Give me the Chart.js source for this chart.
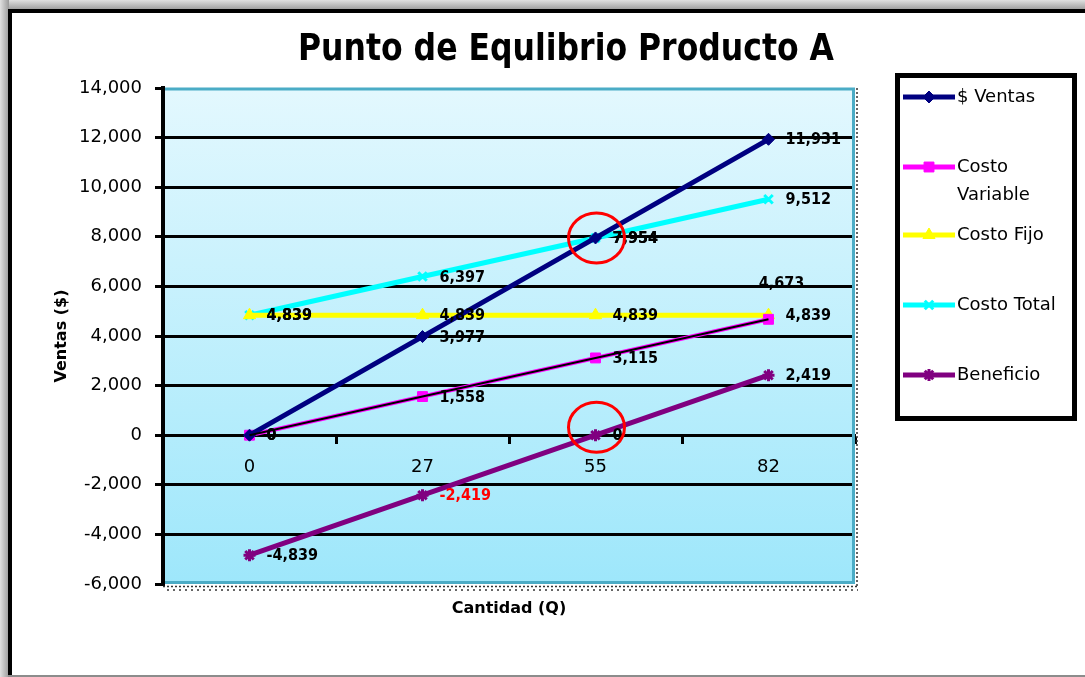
<!DOCTYPE html>
<html><head><meta charset="utf-8">
<script src="https://cdn.jsdelivr.net/npm/chart.js@4.4.1/dist/chart.umd.min.js"></script>
<style>html,body{margin:0;padding:0;background:#fff;overflow:hidden}canvas{display:block}</style>
</head><body><canvas id="c" width="1085" height="677"></canvas>
<script>
// ---- data ----
const categories = ['0', '27', '55', '82'];
const ventas = [0, 3977, 7954, 11931];
const costoVariable = [0, 1558, 3115, 4673];
const costoFijo = [4839, 4839, 4839, 4839];
const costoTotal = [4839, 6397, 7954, 9512];
const beneficio = [-4839, -2419, 0, 2419];
const seriesNames = ['$ Ventas', 'Costo Variable', 'Costo Fijo', 'Costo Total', 'Beneficio'];
const yMin = -6000, yMax = 14000, yStep = 2000;
const chartTitle = 'Punto de Equlibrio Producto A';
const yTitle = 'Ventas ($)';
const xTitle = 'Cantidad (Q)';
const breakEvenIndex = 2;

// ---- styles ----
const FONT_T = '"DejaVu Sans", sans-serif';
const FONT_C = '"DejaVu Sans Condensed", "Liberation Sans Narrow", "DejaVu Sans", sans-serif';
const styles = [
  {color:'#000080', style:'rectRot', r:6, bw:1},
  {color:'#ff00ff', style:'rect', r:7, bw:1, lw:4},
  {color:'#ffff00', style:'triangle', r:7, bw:1},
  {color:'#00ffff', style:'crossRot', r:6, bw:3},
  {color:'#800080', style:'star', r:6, bw:3}
];
const seriesData = [ventas, costoVariable, costoFijo, costoTotal, beneficio];

const datasets = seriesData.map((d, i) => ({
  label: seriesNames[i], data: d,
  borderColor: styles[i].color, backgroundColor: styles[i].color,
  pointBackgroundColor: styles[i].color, pointBorderColor: styles[i].color,
  borderWidth: styles[i].lw || 5, pointStyle: styles[i].style, pointRadius: styles[i].r,
  pointBorderWidth: styles[i].bw, order: 1
}));
datasets.push({label: '', data: costoVariable, borderColor: '#000000', borderWidth: 2, pointRadius: 0, order: 0, isTrend: true});

const framePlugin = {
  id: 'frame',
  beforeDraw(chart) {
    const ctx = chart.ctx, W = chart.width, H = chart.height, a = chart.chartArea;
    ctx.save();
    const sg = ctx.createLinearGradient(0, 0, 9, 0);
    sg.addColorStop(0, '#e0e0e0'); sg.addColorStop(1, '#9a9a9a');
    ctx.fillStyle = sg; ctx.fillRect(0, 0, 9, H);
    const tg = ctx.createLinearGradient(0, 0, 0, 10);
    tg.addColorStop(0, '#e0e0e0'); tg.addColorStop(1, '#9a9a9a');
    ctx.fillStyle = tg; ctx.fillRect(9, 0, W, 10);
    ctx.fillStyle = '#ffffff'; ctx.fillRect(12, 13, W, 662);
    ctx.fillStyle = '#000000'; ctx.fillRect(8, 9, W, 4); ctx.fillRect(8, 9, 4, 666);
    ctx.fillStyle = '#8c8c8c'; ctx.fillRect(8, 675, W, 2);
    const g = ctx.createLinearGradient(0, a.top, 0, a.bottom);
    g.addColorStop(0, '#e3f8fe'); g.addColorStop(1, '#9ee7fb');
    ctx.fillStyle = g; ctx.fillRect(a.left, a.top, a.right - a.left, a.bottom - a.top);
    // title
    ctx.font = 'bold 38px "Liberation Sans Narrow", "DejaVu Sans Condensed", "DejaVu Sans", sans-serif';
    const w = ctx.measureText(chartTitle).width;
    ctx.translate(566, 60); ctx.scale(536 / w, 1);
    ctx.fillStyle = '#000'; ctx.textAlign = 'center'; ctx.textBaseline = 'alphabetic';
    ctx.fillText(chartTitle, 0, 0);
    ctx.restore();
  },
  beforeDatasetsDraw(chart) {
    const ctx = chart.ctx, a = chart.chartArea;
    ctx.save();
    ctx.strokeStyle = '#4bacc6'; ctx.lineWidth = 3;
    ctx.beginPath();
    ctx.moveTo(a.left + 2, a.top + 1); ctx.lineTo(a.right, a.top + 1);
    ctx.moveTo(a.right - 1.5, a.top); ctx.lineTo(a.right - 1.5, a.bottom);
    ctx.moveTo(a.left + 2, a.bottom - 1.5); ctx.lineTo(a.right, a.bottom - 1.5);
    ctx.stroke();
    ctx.strokeStyle = '#333'; ctx.lineWidth = 1.5; ctx.setLineDash([2, 2]);
    ctx.beginPath();
    ctx.moveTo(a.left, a.bottom + 2.5); ctx.lineTo(a.right + 3, a.bottom + 2.5);
    ctx.moveTo(a.right + 2, a.top); ctx.lineTo(a.right + 2, a.bottom + 2);
    ctx.stroke();
    ctx.setLineDash([2, 4]);
    ctx.beginPath();
    ctx.moveTo(a.left + 4, a.bottom + 6); ctx.lineTo(a.right + 3, a.bottom + 6);
    ctx.stroke();
    ctx.restore();
  },
  afterDatasetsDraw(chart) {
    const ctx = chart.ctx, xs = chart.scales.x, ys = chart.scales.y;
    ctx.save();
    ctx.font = 'bold 16px ' + FONT_C;
    ctx.textBaseline = 'middle';
    seriesData.forEach((d, si) => {
      d.forEach((v, i) => {
        const px = xs.getPixelForValue(i), py = ys.getPixelForValue(v);
        const txt = v.toLocaleString('en-US');
        ctx.fillStyle = v < 0 && i > 0 ? '#ff0000' : '#000000';
        if (si === 1 && i === d.length - 1) {
          ctx.textAlign = 'center';
          ctx.fillText(txt, px + 13, py - 35);
        } else {
          ctx.textAlign = 'left';
          ctx.fillText(txt, px + 17, py + 1);
        }
      });
    });
    // break-even circles
    ctx.strokeStyle = '#ff0000'; ctx.lineWidth = 3;
    [ventas, beneficio].forEach((d, k) => {
      const px = xs.getPixelForValue(breakEvenIndex) + 1;
      const py = ys.getPixelForValue(d[breakEvenIndex]) - (k === 1 ? 8 : 0);
      ctx.beginPath(); ctx.ellipse(px, py, 28, 25, 0, 0, Math.PI * 2); ctx.stroke();
    });
    ctx.restore();
  },
  afterDraw(chart) {
    const ctx = chart.ctx;
    ctx.save();
    ctx.strokeStyle = '#000'; ctx.lineWidth = 5;
    ctx.strokeRect(897.5, 75.5, 177, 343);
    const rows = [97, 167, 235, 305, 375];
    ctx.font = '18px ' + FONT_T;
    ctx.textBaseline = 'middle'; ctx.textAlign = 'left';
    seriesNames.forEach((name, i) => {
      const y = rows[i], st = styles[i];
      ctx.strokeStyle = st.color; ctx.lineWidth = 5;
      ctx.beginPath(); ctx.moveTo(903, y); ctx.lineTo(955, y); ctx.stroke();
      ctx.fillStyle = st.color; ctx.strokeStyle = st.color; ctx.lineWidth = st.bw;
      Chart.helpers.drawPoint(ctx, {pointStyle: st.style, radius: st.r, rotation: 0, borderWidth: st.bw}, 929, y);
      // wrap text
      ctx.fillStyle = '#000';
      const maxW = 112;
      const words = name.split(' ');
      const lines = [];
      let cur = '';
      words.forEach(wd => {
        const t = cur ? cur + ' ' + wd : wd;
        if (ctx.measureText(t).width > maxW && cur) { lines.push(cur); cur = wd; } else cur = t;
      });
      lines.push(cur);
      lines.forEach((ln, k) => ctx.fillText(ln, 957, y + k * 28));
    });
    ctx.restore();
  }
};

new Chart(document.getElementById('c'), {
  type: 'line',
  data: {labels: categories, datasets},
  options: {
    responsive: false, animation: false, devicePixelRatio: 1,
    layout: {padding: {top: 88, left: 48, right: 230, bottom: 55}},
    elements: {line: {tension: 0}},
    plugins: {legend: {display: false}, title: {display: false}, tooltip: {enabled: false}},
    scales: {
      y: {
        min: yMin, max: yMax,
        ticks: {stepSize: yStep, color: '#000', font: {family: FONT_T, size: 18}, padding: 13},
        grid: {
          color: c => (c.tick && (c.tick.value === yMax || c.tick.value === yMin)) ? 'rgba(0,0,0,0)' : '#000',
          lineWidth: 3, tickLength: 8, tickColor: '#000', tickWidth: 3
        },
        border: {color: '#000', width: 4},
        title: {display: true, text: yTitle, color: '#000', font: {family: FONT_T, size: 16, weight: 'bold'}},
        afterFit(s) { s.width = 115; }
      },
      x: {
        position: {y: 0}, offset: true,
        grid: {offset: true, drawOnChartArea: false, tickLength: 7, tickColor: '#000', tickWidth: 3},
        border: {color: '#000', width: 3},
        ticks: {color: '#000', font: {family: FONT_T, size: 18}, padding: 14}
      },
      x2: {
        type: 'category', position: 'bottom', offset: true,
        grid: {display: false}, border: {display: false}, ticks: {display: false},
        title: {display: true, text: xTitle, color: '#000', font: {family: FONT_T, size: 16, weight: 'bold'}},
        afterFit(s) { s.height = 38; }
      }
    }
  },
  plugins: [framePlugin]
});
</script>
</body></html>
